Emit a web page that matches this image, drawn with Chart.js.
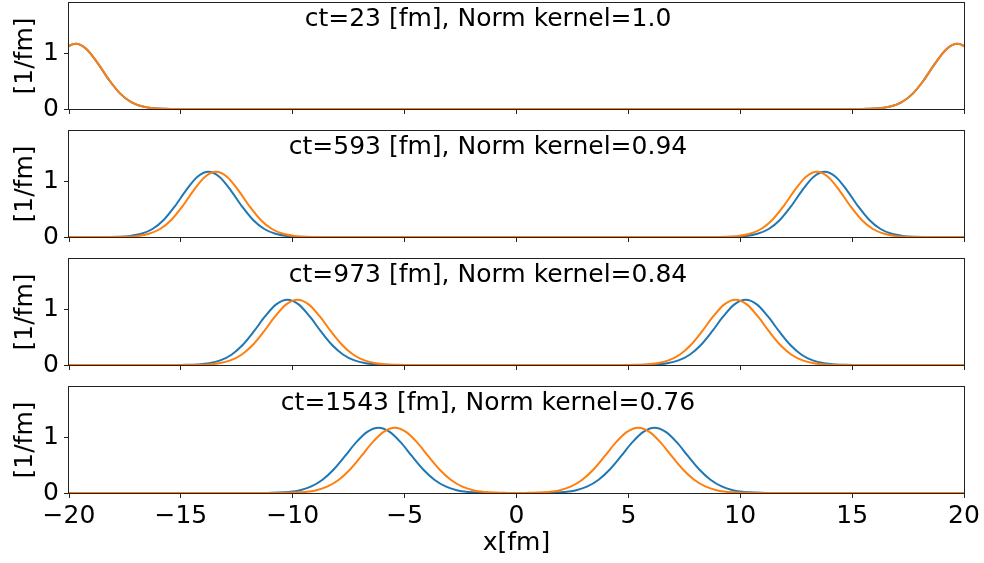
<!DOCTYPE html>
<html>
<head>
<meta charset="utf-8">
<script src="https://cdn.jsdelivr.net/npm/chart.js@4.4.0/dist/chart.umd.min.js"></script>
<style>
  html, body { margin: 0; padding: 0; background: #fff; }
  #wrap { position: relative; width: 984px; height: 563px; overflow: hidden; }
  #wrap canvas { position: absolute; left: 0; }
</style>
</head>
<body>
<div id="wrap"></div>
<script>
// texts of the four panels
const panelTitles = [
  "ct=23 [fm], Norm kernel=1.0",
  "ct=593 [fm], Norm kernel=0.94",
  "ct=973 [fm], Norm kernel=0.84",
  "ct=1543 [fm], Norm kernel=0.76",
];

// peak shape (value at distance from the peak centre)
const offsets = [0, 0.5, 1, 1.5, 2, 2.5, 3, 3.5, 4, 4.5, 5];
const profile1 = [1.17, 1.068, 0.812, 0.515, 0.271, 0.119, 0.044, 0.013, 0.003, 0, 0];
const profile2 = [1.17, 1.076, 0.836, 0.550, 0.305, 0.143, 0.057, 0.019, 0.005, 0.001, 0];
const profile3 = [1.17, 1.087, 0.870, 0.601, 0.358, 0.184, 0.082, 0.031, 0.010, 0.003, 0];
const profile4 = [1.17, 1.097, 0.907, 0.659, 0.422, 0.238, 0.118, 0.051, 0.020, 0.007, 0.002];
const profiles = [profile1, profile2, profile3, profile4];

// peak positions (+/-) per panel
const blueCentres = [19.7, 13.77, 10.24, 6.17];
const orangeCentres = [19.7, 13.43, 9.79, 5.44];

const xTicks = [-20, -15, -10, -5, 0, 5, 10, 15, 20];
const yTicks = [0, 1];

// layout
const panelTops = [3, 131, 259, 387];
const plotHeight = 106;
const padTop = 2;

Chart.defaults.font.family = "'DejaVu Sans', sans-serif";
Chart.defaults.font.size = 25;
Chart.defaults.color = "#000";

function onePeak(c, profile) {
  const pts = [];
  for (let i = -(offsets.length - 1); i < offsets.length; i++) {
    const k = Math.abs(i);
    pts.push({ x: c + Math.sign(i) * offsets[k], y: profile[k] });
  }
  return pts;
}

function series(c, profile) {
  const pts = [...onePeak(-c, profile), { x: 0, y: 0 }, ...onePeak(c, profile)];
  if (pts[0].x > -20) pts.unshift({ x: -20, y: 0 });
  if (pts[pts.length - 1].x < 20) pts.push({ x: 20, y: 0 });
  return pts;
}

// box around the plot area
const framePlugin = {
  id: "frame",
  afterDatasetsDraw(chart) {
    const { ctx, chartArea: a } = chart;
    ctx.save();
    ctx.strokeStyle = "#222";
    ctx.lineWidth = 1;
    ctx.strokeRect(Math.round(a.left) - 0.5, Math.round(a.top) - 0.5,
      Math.round(a.width) + 1, Math.round(a.height) + 1);
    ctx.restore();
  },
};

// the ct / Norm kernel text inside the plot
const notePlugin = {
  id: "note",
  afterDraw(chart, args, opts) {
    const { ctx, chartArea: a } = chart;
    ctx.save();
    ctx.font = "25px 'DejaVu Sans', sans-serif";
    ctx.fillStyle = "#000";
    ctx.textAlign = "center";
    ctx.textBaseline = "alphabetic";
    ctx.fillText(opts.text, a.left + 419, a.top + 23);
    ctx.restore();
  },
};

const wrap = document.getElementById("wrap");

panelTitles.forEach((title, i) => {
  const last = i === panelTitles.length - 1;
  const top = panelTops[i] - padTop;
  const height = last ? 563 - top : padTop + plotHeight + 10;
  const canvas = document.createElement("canvas");
  canvas.width = 984;
  canvas.height = height;
  canvas.style.top = top + "px";
  wrap.appendChild(canvas);

  new Chart(canvas, {
    type: "line",
    data: {
      datasets: [
        {
          label: "blue",
          data: series(blueCentres[i], profiles[i]),
          borderColor: "#1f77b4",
          borderWidth: 2,
          pointRadius: 0,
          cubicInterpolationMode: "monotone",
          order: 1,
        },
        {
          label: "orange",
          data: series(orangeCentres[i], profiles[i]),
          borderColor: "#ff7f0e",
          borderWidth: 2,
          pointRadius: 0,
          cubicInterpolationMode: "monotone",
          order: 0,
        },
      ],
    },
    options: {
      responsive: false,
      animation: false,
      layout: { padding: { top: padTop, right: 20, left: 0, bottom: 0 } },
      plugins: {
        legend: { display: false },
        tooltip: { enabled: false },
        note: { text: title },
      },
      scales: {
        x: {
          type: "linear",
          min: -20,
          max: 20,
          afterBuildTicks: (s) => { s.ticks = xTicks.map((v) => ({ value: v })); },
          afterFit: (s) => {
            s.height = last ? height - padTop - plotHeight : 10;
            s.paddingLeft = 0;
            s.paddingRight = 0;
          },
          ticks: {
            display: last,
            padding: 3,
            autoSkip: false,
            maxRotation: 0,
            callback: (v) => String(v).replace("-", "\u2212"),
          },
          grid: { drawOnChartArea: false, drawTicks: true, tickLength: 5, tickColor: "#222" },
          border: { display: false },
          title: { display: last, text: "x[fm]", padding: { top: 0, bottom: 5 } },
        },
        y: {
          min: 0,
          max: 1.9,
          afterBuildTicks: (s) => { s.ticks = yTicks.map((v) => ({ value: v })); },
          afterFit: (s) => {
            s.width = 69;
            s.paddingTop = 0;
            s.paddingBottom = 0;
          },
          ticks: { padding: 5 },
          grid: { drawOnChartArea: false, drawTicks: true, tickLength: 5, tickColor: "#222" },
          border: { display: false },
          title: { display: true, text: "[1/fm]", padding: { top: 10, bottom: 0 } },
        },
      },
    },
    plugins: [framePlugin, notePlugin],
  });
});
</script>
</body>
</html>
